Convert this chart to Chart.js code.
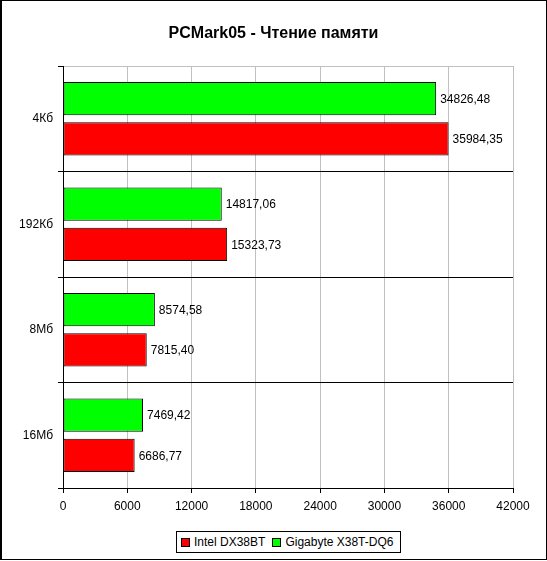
<!DOCTYPE html>
<html><head><meta charset="utf-8">
<script src="https://cdn.jsdelivr.net/npm/chart.js@4"></script>
<style>
html,body{margin:0;padding:0;background:#fff;}
#wrap{position:relative;width:547px;height:561px;}
#legend{position:absolute;border:1px solid #000;background:#fff;font:12px Arial,"Liberation Sans",sans-serif;color:#000;display:flex;align-items:center;white-space:nowrap;box-sizing:border-box;height:22px;padding:0 7px 0 4px;}
.item{display:flex;align-items:center;}
.item + .item{margin-left:7px;}
.sw{width:7px;height:7px;border:1px solid #000;margin-right:4px;}
</style></head><body>
<div id="wrap"><canvas id="c" width="547" height="561"></canvas><div id="legend"></div></div>
<script>
const categories = ['4Кб', '192Кб', '8Мб', '16Мб'];
const intelValues = [35984.35, 15323.73, 7815.40, 6686.77];
const gigabyteValues = [34826.48, 14817.06, 8574.58, 7469.42];
const xTicks = [0, 6000, 12000, 18000, 24000, 30000, 36000, 42000];
const seriesNames = ['Intel DX38BT', 'Gigabyte X38T-DQ6'];
const seriesColors = ['#FF0000', '#00FF00'];
const titleText = 'PCMark05 - Чтение памяти';

const FONT = 'Arial, "Liberation Sans", sans-serif';
const fmt = v => v.toFixed(2).replace('.', ',');

const valueLabels = {
  id: 'valueLabels',
  afterDatasetsDraw(chart) {
    const ctx = chart.ctx;
    ctx.save();
    ctx.font = '12px ' + FONT;
    ctx.fillStyle = '#000';
    ctx.textAlign = 'left';
    ctx.textBaseline = 'middle';
    chart.data.datasets.forEach((ds, di) => {
      const meta = chart.getDatasetMeta(di);
      meta.data.forEach((el, i) => {
        ctx.fillText(fmt(ds.data[i]), el.x + 4, el.y + 1);
      });
    });
    ctx.restore();
  }
};
const frame = {
  id: 'frame',
  afterDraw(chart) {
    const ctx = chart.ctx;
    ctx.save();
    ctx.strokeStyle = '#000';
    ctx.lineWidth = 1;
    ctx.strokeRect(0.5, 0.5, 546, 559);
    ctx.beginPath();
    ctx.moveTo(1.5, 0); ctx.lineTo(1.5, 560);
    ctx.stroke();
    ctx.restore();
  }
};

const chart = new Chart(document.getElementById('c'), {
  type: 'bar',
  data: {
    labels: categories,
    datasets: [
      { label: seriesNames[1], data: gigabyteValues, backgroundColor: seriesColors[1], borderColor: '#000', borderWidth: 1, borderSkipped: false },
      { label: seriesNames[0], data: intelValues, backgroundColor: seriesColors[0], borderColor: '#000', borderWidth: 1, borderSkipped: false }
    ]
  },
  options: {
    indexAxis: 'y',
    responsive: false,
    animation: false,
    devicePixelRatio: 1,
    datasets: { bar: { categoryPercentage: 0.762, barPercentage: 0.825 } },
    layout: { padding: 0 },
    plugins: {
      legend: { display: false },
      tooltip: { enabled: false },
      title: {
        display: true, text: titleText, color: '#000',
        font: { family: FONT, size: 16, weight: 'bold' },
        padding: { top: 24, bottom: 22.8 }
      }
    },
    scales: {
      x: {
        type: 'linear', min: 0, max: 42000,
        afterBuildTicks: s => { s.ticks = xTicks.map(v => ({ value: v })); },
        afterFit: s => { s.height = 73; s.paddingLeft = 0; s.paddingRight = 0; },
        ticks: { color: '#000', font: { family: FONT, size: 12 }, padding: 6, maxRotation: 0, autoSkip: false, callback: v => String(v) },
        grid: { color: '#C0C0C0', tickColor: '#000', tickLength: 5, lineWidth: 1 },
        border: { color: '#000', width: 1 }
      },
      y: {
        type: 'category',
        afterFit: s => { s.width = 63; },
        ticks: { color: '#000', font: { family: FONT, size: 12 }, padding: 5 },
        grid: { offset: true, color: c => (c.index === 0 ? '#C0C0C0' : '#000'), tickColor: '#000', tickLength: 5, lineWidth: 1 },
        border: { color: '#000', width: 1 }
      },
      ySpacer: {
        type: 'category', axis: 'y', position: 'right',
        afterFit: s => { s.width = 34; },
        ticks: { display: false },
        grid: { display: false, drawOnChartArea: false },
        border: { display: false }
      }
    }
  },
  plugins: [valueLabels, frame]
});

const legend = document.getElementById('legend');
[0, 1].forEach(i => {
  const it = document.createElement('span');
  it.className = 'item';
  const sw = document.createElement('span');
  sw.className = 'sw';
  sw.style.background = seriesColors[i];
  const tx = document.createElement('span');
  tx.textContent = seriesNames[i];
  it.appendChild(sw); it.appendChild(tx);
  legend.appendChild(it);
});
const ca = chart.chartArea;
const cx = (ca.left + ca.right) / 2;
legend.style.left = Math.round(cx - legend.offsetWidth / 2) + 'px';
legend.style.top = '531px';
</script>
</body></html>
